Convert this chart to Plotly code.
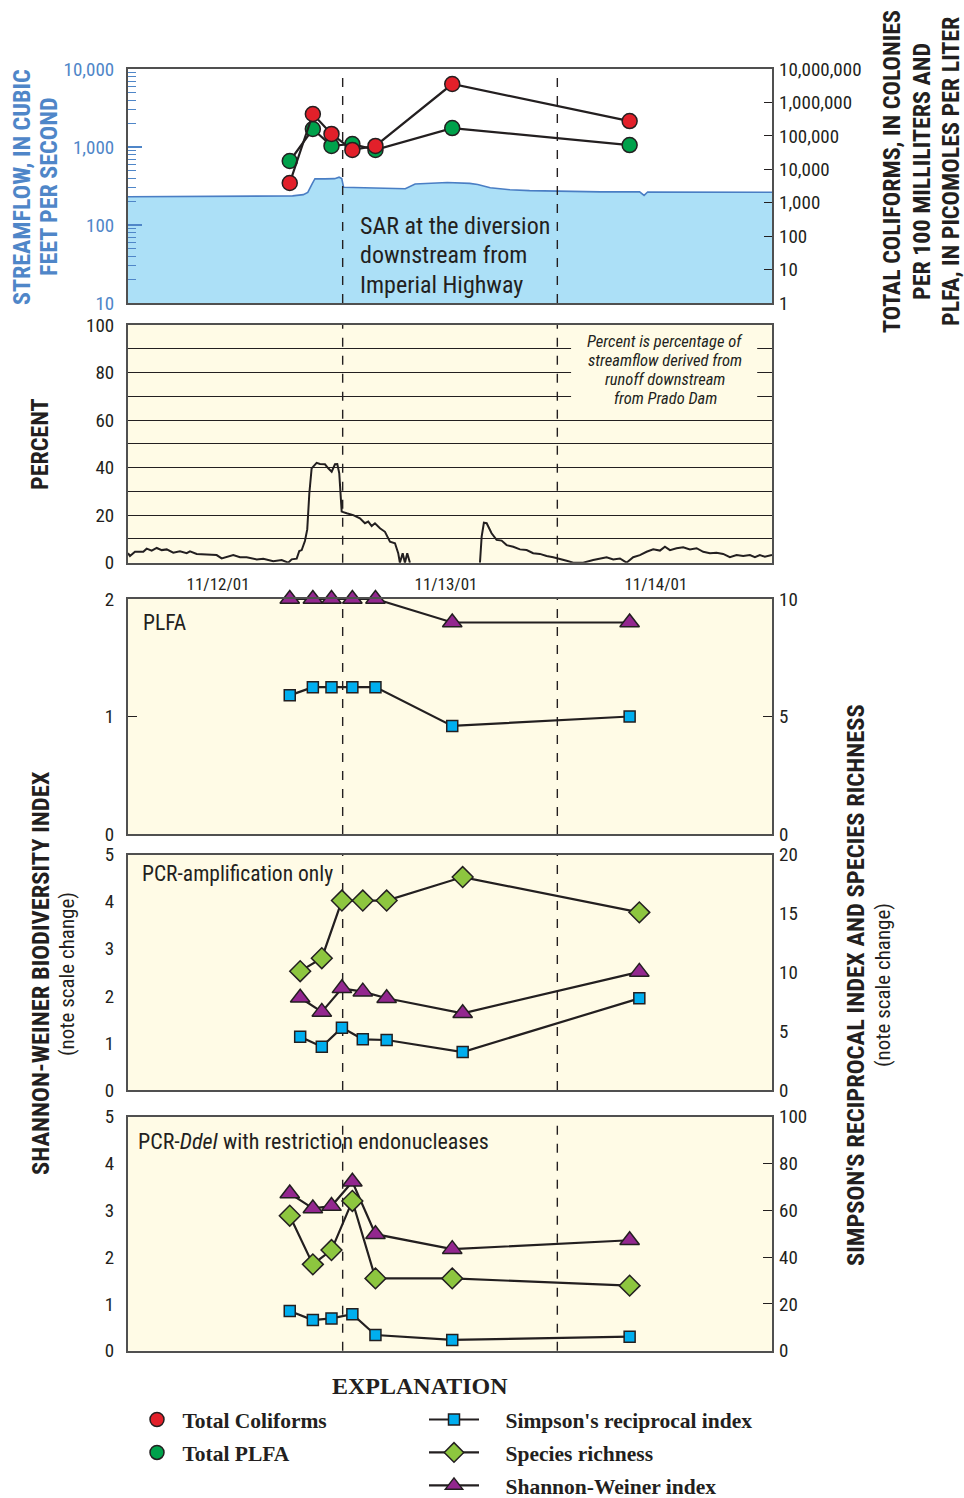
import plotly.graph_objects as go
from datetime import datetime, timedelta

# ------------------------------------------------------------------ data
start = datetime(2001, 11, 12)
x_range = ["2001-11-12 00:00", "2001-11-15 00:00"]
midnights = ["2001-11-13 00:00", "2001-11-14 00:00"]
date_label_times = ["2001-11-12 10:04", "2001-11-13 11:33", "2001-11-14 11:01"]
date_labels = ["11/12/01", "11/13/01", "11/14/01"]

sample_times = ["2001-11-12 18:05", "2001-11-12 20:40", "2001-11-12 22:45",
                "2001-11-13 01:05", "2001-11-13 03:40", "2001-11-13 12:15",
                "2001-11-14 08:05"]
pcr_times = ["2001-11-12 19:15", "2001-11-12 21:40", "2001-11-12 23:55",
             "2001-11-13 02:15", "2001-11-13 04:55", "2001-11-13 13:25",
             "2001-11-14 09:10"]

total_coliforms = [3900, 450000, 114000, 38000, 50000, 3550000, 277000]
total_plfa = [17700, 160000, 50000, 57000, 38000, 171000, 53000]

flow_hours = [0, 3.6, 8.0, 12.5, 17.0, 18.4, 19.6, 20.1, 20.6, 20.9, 22.0, 23.1,
              23.6, 23.9, 24.1, 25.9, 28.2, 31.0, 32.1, 33.8, 35.7, 38.2, 39.1,
              40.5, 42.7, 44.9, 48.3, 52.8, 57.2, 57.7, 58.1, 63.9, 72.0]
flow_cfs = [230, 232, 233, 234, 235, 236, 245, 262, 340, 392, 390, 393,
            410, 395, 305, 300, 296, 292, 335, 340, 350, 342, 330,
            300, 283, 276, 270, 266, 266, 240, 265, 264, 263]

pct_hours = [0, 0.22, 0.78, 1.71, 2.09, 2.65, 3.21, 3.77, 4.33, 5.06, 5.81, 6.56,
             6.93, 7.68, 8.80, 9.91, 10.47, 11.03, 11.77, 12.52, 13.27, 14.39,
             15.12, 16.24, 17.18, 17.92, 18.30, 18.86, 19.15, 19.42, 19.78, 20.04,
             20.27, 20.53, 21.09, 21.46, 22.02, 22.39, 22.77, 23.14, 23.40, 23.62,
             23.78, 23.89, 24.45, 25.18, 25.93, 26.49, 26.86, 27.24, 27.61, 28.17,
             28.73, 29.29, 29.85, 30.21, 30.40, 30.71, 30.96, 31.22, 31.52, 35.0,
             39.35, 39.54, 39.79, 40.10, 40.65, 41.21, 41.77, 42.33, 43.07, 43.82,
             44.57, 45.30, 46.05, 46.80, 47.54, 48.29, 49.04, 49.78, 50.89, 52.01,
             52.76, 53.51, 54.25, 55.00, 55.74, 56.48, 57.23, 57.98, 58.72, 59.47,
             60.03, 60.59, 61.33, 62.07, 62.82, 63.57, 64.31, 65.06, 65.80, 66.54,
             67.29, 68.04, 68.78, 69.53, 70.09, 70.64, 71.20, 71.76, 72.0]
pct_values = [4.0, 2.8, 4.6, 4.6, 5.9, 5.1, 6.2, 5.3, 5.6, 4.2, 4.8, 4.0,
              4.8, 3.7, 3.5, 3.2, 1.8, 2.3, 3.2, 2.3, 2.3, 1.4,
              1.7, 0.6, 1.1, 0.0, 1.4, 1.7, 4.9, 5.3, 9.1, 14.0,
              29.0, 39.7, 42.0, 41.5, 41.4, 39.7, 38.3, 41.4, 41.5, 37.6,
              27.8, 21.5, 20.8, 20.0, 18.7, 16.6, 17.3, 15.4, 16.6, 14.5,
              13.0, 8.8, 8.2, 4.0, 0.0, 4.0, 0.0, 4.0, 0.0, None,
              0.0, 11.0, 16.8, 16.6, 12.4, 9.6, 9.3, 7.4, 6.7, 5.6,
              5.3, 4.0, 3.7, 2.8, 2.3, 1.4, 0.8, 0.0, 0.0, 1.1,
              1.8, 2.3, 1.4, 1.8, 0.0, 2.3, 3.2, 4.6, 5.6, 5.1,
              6.7, 5.3, 6.1, 6.5, 5.6, 6.1, 4.6, 4.0, 4.2, 3.7,
              2.3, 3.2, 2.8, 3.2, 2.3, 3.2, 2.5, 3.2, 3.2]

plfa_simpson = [5.9, 6.25, 6.25, 6.25, 6.25, 4.6, 5.0]
plfa_shannon = [2.0, 2.0, 2.0, 2.0, 2.0, 1.8, 1.8]

pcr_simpson = [4.53, 3.68, 5.30, 4.31, 4.25, 3.23, 7.79]
pcr_richness = [10.1, 11.2, 16.1, 16.1, 16.1, 18.1, 15.1]
pcr_shannon = [1.96, 1.66, 2.16, 2.09, 1.95, 1.63, 2.51]

ddei_simpson = [17.0, 13.1, 13.8, 15.6, 6.7, 4.6, 6.0]
ddei_richness = [57.7, 36.9, 43.0, 64.0, 30.9, 30.9, 27.8]
ddei_shannon = [3.36, 3.04, 3.09, 3.61, 2.49, 2.17, 2.36]

# ------------------------------------------------------------------ style
W, H = 964, 1498
SANS = "Liberation Sans Narrow, Roboto Condensed, DejaVu Sans Condensed, Arial Narrow, Liberation Sans, sans-serif"
SERIF = "Liberation Serif, Times New Roman, serif"
INK = "#231f20"
BLUE_TXT = "#4f86c8"
FRAME = "#505050"
CREAM = "#fffbe6"
FLOW_FILL = "#ace0f7"
FLOW_LINE = "#4a7ec4"
RED = "#e2202a"
GREEN = "#00a14b"
SQ_BLUE = "#00aeef"
DIA_GREEN = "#8dc63f"
PURPLE = "#93278f"
NB = "\u00a0"

XDOM = [128 / W, 772 / W]


def ydom(top, bot):
    return [1 - bot / H, 1 - top / H]


def py(p):
    return 1 - p / H


def hours_to_times(hours):
    return [start + timedelta(hours=h) for h in hours]


flow_times = hours_to_times(flow_hours)
pct_times = hours_to_times(pct_hours)

fig = go.Figure()

LINE = dict(color=INK, width=2.2)
OUT = dict(color=INK, width=1.5)


def series(x, y, xa, ya, symbol, color, size, mode="lines+markers"):
    fig.add_trace(go.Scatter(
        x=x, y=y, xaxis=xa, yaxis=ya, mode=mode, line=LINE, cliponaxis=False,
        marker=dict(symbol=symbol, color=color, size=size, line=OUT),
        showlegend=False, hoverinfo="skip"))


# top panel: streamflow + coliforms/PLFA
fig.add_trace(go.Scatter(x=flow_times, y=flow_cfs, xaxis="x", yaxis="y",
                         mode="lines", line=dict(color=FLOW_LINE, width=1.6),
                         fill="tozeroy", fillcolor=FLOW_FILL, showlegend=False,
                         hoverinfo="skip"))
series(sample_times, total_plfa, "x", "y2", "circle", GREEN, 15)
series(sample_times, total_coliforms, "x", "y2", "circle", RED, 15)

# percent panel
fig.add_trace(go.Scatter(x=pct_times, y=pct_values, xaxis="x2", yaxis="y3",
                         mode="lines", line=dict(color=INK, width=2),
                         connectgaps=False, showlegend=False, hoverinfo="skip"))

# PLFA panel
series(sample_times, plfa_simpson, "x3", "y5", "square", SQ_BLUE, 11)
series(sample_times, plfa_shannon, "x3", "y4", "triangle-up", PURPLE, 17)

# PCR panel
series(pcr_times, pcr_simpson, "x4", "y7", "square", SQ_BLUE, 11)
series(pcr_times, pcr_shannon, "x4", "y6", "triangle-up", PURPLE, 17)
series(pcr_times, pcr_richness, "x4", "y7", "diamond", DIA_GREEN, 16)

# PCR-DdeI panel
series(sample_times, ddei_simpson, "x5", "y9", "square", SQ_BLUE, 11)
series(sample_times, ddei_richness, "x5", "y9", "diamond", DIA_GREEN, 16)
series(sample_times, ddei_shannon, "x5", "y8", "triangle-up", PURPLE, 17)


# legend entries
def legend_entry(name, symbol, color, size, legend, mode, group):
    fig.add_trace(go.Scatter(
        x=[None], y=[None], xaxis="x", yaxis="y", mode=mode, name=name,
        line=dict(color=INK, width=2.2),
        marker=dict(symbol=symbol, color=color, size=size, line=OUT),
        legend=legend, legendgroup=group, showlegend=True))


legend_entry(NB + "Total Coliforms", "circle", RED, 14, "legend", "markers", "a")
legend_entry(NB + "Total PLFA", "circle", GREEN, 14, "legend", "markers", "b")
legend_entry(NB * 4 + "Simpson's reciprocal index", "square", SQ_BLUE, 11, "legend2", "lines+markers", "c")
legend_entry(NB * 4 + "Species richness", "diamond", DIA_GREEN, 15, "legend2", "lines+markers", "d")
legend_entry(NB * 4 + "Shannon-Weiner index", "triangle-up", PURPLE, 15, "legend2", "lines+markers", "e")

# ------------------------------------------------------------------ axes
tickfont = dict(family=SANS, size=19, color=INK)


def xax(anchor, dom_labels=False):
    d = dict(domain=XDOM, range=x_range, type="date", anchor=anchor,
             showline=True, mirror=True, linecolor=FRAME, linewidth=2,
             showgrid=False, zeroline=False, ticks="", showticklabels=False,
             automargin=False)
    if dom_labels:
        d.update(showticklabels=True, tickmode="array", tickvals=date_label_times,
                 ticktext=date_labels, tickfont=dict(family=SANS, size=17, color=INK),
                 ticklabelstandoff=5)
    return d


def yleft(dom, rng, dtick, ticks="", anchor="x"):
    return dict(domain=dom, range=rng, dtick=dtick, tick0=0, anchor=anchor,
                showline=True, mirror=True, linecolor=FRAME, linewidth=2,
                showgrid=False, zeroline=False, ticks=ticks, ticklen=9,
                tickcolor=INK, tickwidth=1.3, tickfont=tickfont,
                ticklabelstandoff=8, automargin=False)


def yright(overlay, rng, dtick, ticks="", anchor="x"):
    return dict(overlaying=overlay, side="right", range=rng, dtick=dtick, tick0=0,
                anchor=anchor, showline=False, showgrid=False, zeroline=False,
                ticks=ticks, ticklen=9, tickcolor=INK, tickwidth=1.3,
                tickfont=tickfont, ticklabelstandoff=6, automargin=False)


layout = dict(
    width=W, height=H, margin=dict(l=0, r=0, t=0, b=0, autoexpand=False),
    paper_bgcolor="white", plot_bgcolor="white",
    font=dict(family=SANS, color=INK),
    xaxis=xax("y"),
    xaxis2=xax("y3", dom_labels=True),
    xaxis3=xax("y4"),
    xaxis4=xax("y6"),
    xaxis5=xax("y8"),
)

top_dom = ydom(69, 303)
layout["yaxis"] = dict(
    domain=top_dom, type="log", range=[1, 4], anchor="x", tickmode="linear",
    tick0=0, dtick=1, tickformat=",d", showline=True, mirror=True,
    linecolor=FRAME, linewidth=2, showgrid=False, zeroline=False,
    ticks="inside", ticklen=14, tickcolor=BLUE_TXT, tickwidth=1.5,
    tickfont=dict(family=SANS, size=19, color=BLUE_TXT), ticklabelstandoff=8,
    automargin=False,
    minor=dict(ticks="inside", ticklen=8, tickcolor=BLUE_TXT, tickwidth=1.2,
               dtick="D1", showgrid=False))
layout["yaxis2"] = dict(
    overlaying="y", side="right", type="log", range=[0, 7], anchor="x",
    tickmode="array", tickvals=[1, 10, 100, 1e3, 1e4, 1e5, 1e6, 1e7],
    ticktext=["1", "10", "100", "1,000", "10,000", "100,000", "1,000,000", "10,000,000"],
    showline=False, showgrid=False, zeroline=False, ticks="inside", ticklen=8,
    tickcolor=INK, tickwidth=1.3, tickfont=tickfont, ticklabelstandoff=6,
    automargin=False)

pct_dom = ydom(325, 562.7)
layout["yaxis3"] = dict(
    domain=pct_dom, range=[0, 100], dtick=20, tick0=0, anchor="x2",
    showline=True, mirror=True, linecolor=FRAME, linewidth=2,
    showgrid=True, gridcolor=INK, gridwidth=1.3, zeroline=False, ticks="",
    tickfont=tickfont, ticklabelstandoff=8, automargin=False,
    minor=dict(dtick=10, showgrid=True, gridcolor=INK, gridwidth=1.3))

layout["yaxis4"] = yleft(ydom(599, 834), [0, 2], 1, "inside", "x3")
layout["yaxis5"] = yright("y4", [0, 10], 5, "inside", "x3")
layout["yaxis6"] = yleft(ydom(854.7, 1090), [0, 5], 1, "", "x4")
layout["yaxis7"] = yright("y6", [0, 20], 5, "", "x4")
layout["yaxis8"] = yleft(ydom(1116.7, 1350.7), [0, 5], 1, "", "x5")
layout["yaxis9"] = yright("y8", [0, 100], 20, "inside", "x5")

# ------------------------------------------------------------------ shapes
shapes = []
# cream panel backgrounds
for xa, ya in [("x2", "y3"), ("x3", "y4"), ("x4", "y6"), ("x5", "y8")]:
    shapes.append(dict(type="rect", xref=f"{xa} domain", yref=f"{ya} domain",
                       x0=0, x1=1, y0=0, y1=1, fillcolor=CREAM,
                       line=dict(width=0), layer="below"))
# dashed midnight lines
for xa, ya, layer in [("x", "y", "above"), ("x2", "y3", "below"),
                      ("x3", "y4", "below"), ("x4", "y6", "below"),
                      ("x5", "y8", "below")]:
    for m in midnights:
        shapes.append(dict(type="line", xref=xa, yref=f"{ya} domain", x0=m, x1=m,
                           y0=0, y1=1, line=dict(color=INK, width=1.4, dash="dash"),
                           layer=layer))
# box behind the percent note (covers the grid lines)
shapes.append(dict(type="rect", xref="x2 domain", yref="y3", x0=0.688, x1=0.977,
                   y0=66, y1=98.5, fillcolor=CREAM, line=dict(width=0),
                   layer="above"))
layout["shapes"] = shapes

# ------------------------------------------------------------------ annotations
ann = []


def paper_text(text, x, y, size, bold=False, color=INK, angle=0, family=SANS):
    ann.append(dict(text=text, xref="paper", yref="paper", x=x / W, y=py(y),
                    xanchor="center", yanchor="middle", showarrow=False,
                    textangle=angle,
                    font=dict(family=family, size=size, color=color,
                              weight="bold" if bold else "normal")))


paper_text("STREAMFLOW, IN CUBIC", 22, 187, 24, True, BLUE_TXT, -90)
paper_text("FEET PER SECOND", 49, 187, 24, True, BLUE_TXT, -90)
paper_text("TOTAL COLIFORMS, IN COLONIES", 892, 172, 24, True, INK, -90)
paper_text("PER 100 MILLILITERS AND", 922, 172, 24, True, INK, -90)
paper_text("PLFA, IN PICOMOLES PER LITER", 951, 172, 24, True, INK, -90)
paper_text("PERCENT", 40, 444, 24, True, INK, -90)
paper_text("SHANNON-WEINER BIODIVERSITY INDEX", 40, 973, 24.5, True, INK, -90)
paper_text("(note scale change)", 67, 974, 21, False, INK, -90)
paper_text("SIMPSON'S RECIPROCAL INDEX AND SPECIES RICHNESS", 855, 985, 24.5, True, INK, -90)
paper_text("(note scale change)", 883, 985, 21, False, INK, -90)
paper_text("EXPLANATION", 420, 1386, 24, True, INK, 0, SERIF)

sar_lines = ["SAR at the diversion", "downstream from", "Imperial Highway"]
for i, t in enumerate(sar_lines):
    ann.append(dict(text=t, xref="x domain", yref="paper",
                    x=(358 - 128) / 644, y=py(226 + 29.5 * i),
                    xanchor="left", yanchor="middle", showarrow=False,
                    font=dict(family=SANS, size=24, color=INK)))

note_lines = ["Percent is percentage of", "streamflow derived from",
              "runoff downstream", "from Prado Dam"]
for i, t in enumerate(note_lines):
    ann.append(dict(text=t, xref="x2 domain", yref="paper",
                    x=(665 - 128) / 644, y=py(342 + 18.7 * i),
                    xanchor="center", yanchor="middle", showarrow=False,
                    font=dict(family=SANS, size=16.5, color=INK, style="italic")))

ann.append(dict(text="PLFA", xref="x3 domain", yref="y4 domain", x=0.02, y=0.902,
                xanchor="left", yanchor="middle", showarrow=False,
                font=dict(family=SANS, size=21.5, color=INK)))
ann.append(dict(text="PCR-amplification only", xref="x4 domain", yref="y6 domain",
                x=0.0186, y=0.918, xanchor="left", yanchor="middle", showarrow=False,
                font=dict(family=SANS, size=21.5, color=INK)))
ann.append(dict(text="PCR-<i>DdeI</i> with restriction endonucleases",
                xref="x5 domain", yref="y8 domain", x=0.0124, y=0.896,
                xanchor="left", yanchor="middle", showarrow=False,
                font=dict(family=SANS, size=22, color=INK)))
layout["annotations"] = ann

legend_font = dict(family=SERIF, size=21.5, color=INK, weight="bold")
layout["legend"] = dict(x=137 / W, y=py(1399), xanchor="left", yanchor="top",
                        font=legend_font, bgcolor="rgba(0,0,0,0)",
                        tracegroupgap=2, itemwidth=30)
layout["legend2"] = dict(x=424 / W, y=py(1399), xanchor="left", yanchor="top",
                         font=legend_font, bgcolor="rgba(0,0,0,0)",
                         tracegroupgap=2, itemwidth=50)

fig.update_layout(**layout)
fig.write_html("out.html", config={"displayModeBar": False},
               post_script="document.body.style.margin='0';document.body.style.padding='0';")
